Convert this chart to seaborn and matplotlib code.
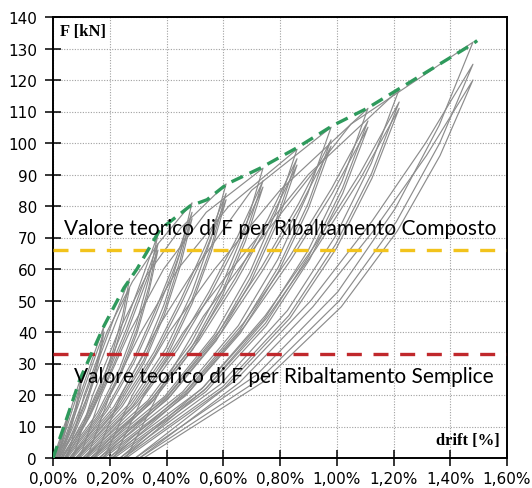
import matplotlib
matplotlib.use("Agg")
import matplotlib.pyplot as plt
from matplotlib.ticker import FuncFormatter
import pandas as pd
import seaborn as sns

# Hysteresis loops: loading branch up to the peak, then unloading back to zero force.
# Drift in %, force in kN.
cycle_drift = [
    [0.000, 0.011, 0.021, 0.031, 0.040, 0.05, 0.045, 0.039, 0.031, 0.020, 0.004],
    [0.004, 0.014, 0.023, 0.032, 0.041, 0.05, 0.046, 0.039, 0.032, 0.021, 0.006],
    [0.006, 0.027, 0.046, 0.063, 0.081, 0.10, 0.091, 0.078, 0.062, 0.041, 0.010],
    [0.010, 0.030, 0.048, 0.065, 0.082, 0.10, 0.091, 0.079, 0.064, 0.043, 0.013],
    [0.013, 0.050, 0.083, 0.115, 0.147, 0.18, 0.164, 0.141, 0.112, 0.073, 0.018],
    [0.018, 0.054, 0.086, 0.117, 0.148, 0.18, 0.164, 0.142, 0.114, 0.076, 0.022],
    [0.022, 0.077, 0.126, 0.173, 0.220, 0.27, 0.246, 0.212, 0.168, 0.110, 0.028],
    [0.028, 0.081, 0.130, 0.176, 0.222, 0.27, 0.246, 0.213, 0.171, 0.114, 0.033],
    [0.033, 0.121, 0.191, 0.255, 0.313, 0.37, 0.337, 0.294, 0.235, 0.156, 0.040],
    [0.040, 0.126, 0.195, 0.258, 0.314, 0.37, 0.338, 0.295, 0.237, 0.159, 0.045],
    [0.045, 0.130, 0.198, 0.260, 0.315, 0.37, 0.338, 0.296, 0.239, 0.162, 0.050],
    [0.050, 0.110, 0.190, 0.280, 0.370, 0.49, 0.447, 0.391, 0.317, 0.214, 0.058],
    [0.058, 0.188, 0.283, 0.360, 0.430, 0.49, 0.447, 0.392, 0.320, 0.217, 0.064],
    [0.064, 0.192, 0.286, 0.362, 0.430, 0.49, 0.448, 0.393, 0.322, 0.221, 0.070],
    [0.070, 0.140, 0.230, 0.330, 0.450, 0.61, 0.557, 0.488, 0.398, 0.271, 0.080],
    [0.080, 0.239, 0.356, 0.451, 0.536, 0.61, 0.558, 0.490, 0.401, 0.275, 0.087],
    [0.087, 0.244, 0.359, 0.453, 0.537, 0.61, 0.558, 0.491, 0.404, 0.280, 0.094],
    [0.094, 0.170, 0.270, 0.390, 0.540, 0.74, 0.677, 0.594, 0.486, 0.334, 0.105],
    [0.105, 0.296, 0.435, 0.550, 0.651, 0.74, 0.677, 0.596, 0.489, 0.339, 0.113],
    [0.113, 0.301, 0.439, 0.552, 0.652, 0.74, 0.678, 0.597, 0.492, 0.343, 0.120],
    [0.120, 0.200, 0.310, 0.440, 0.620, 0.86, 0.787, 0.693, 0.569, 0.394, 0.132],
    [0.132, 0.350, 0.511, 0.642, 0.758, 0.86, 0.788, 0.694, 0.572, 0.399, 0.140],
    [0.140, 0.356, 0.514, 0.644, 0.759, 0.86, 0.789, 0.696, 0.575, 0.404, 0.148],
    [0.148, 0.240, 0.360, 0.500, 0.700, 0.98, 0.898, 0.792, 0.653, 0.457, 0.162],
    [0.162, 0.407, 0.587, 0.735, 0.866, 0.98, 0.899, 0.794, 0.657, 0.463, 0.172],
    [0.172, 0.414, 0.592, 0.738, 0.867, 0.98, 0.900, 0.796, 0.660, 0.468, 0.180],
    [0.180, 0.280, 0.410, 0.570, 0.800, 1.11, 1.019, 0.900, 0.744, 0.525, 0.196],
    [0.196, 0.470, 0.671, 0.836, 0.982, 1.11, 1.020, 0.902, 0.749, 0.532, 0.207],
    [0.207, 0.478, 0.677, 0.839, 0.984, 1.11, 1.021, 0.904, 0.752, 0.538, 0.216],
    [0.216, 0.320, 0.460, 0.630, 0.900, 1.22, 1.122, 0.994, 0.826, 0.590, 0.236],
    [0.236, 0.531, 0.748, 0.925, 1.082, 1.22, 1.123, 0.996, 0.831, 0.598, 0.248],
    [0.248, 0.540, 0.753, 0.928, 1.084, 1.22, 1.124, 0.999, 0.835, 0.604, 0.258],
    [0.258, 0.380, 0.530, 0.720, 1.050, 1.48, 1.361, 1.206, 1.004, 0.718, 0.290],
    [0.290, 0.647, 0.909, 1.123, 1.313, 1.48, 1.363, 1.210, 1.010, 0.728, 0.305],
    [0.305, 0.658, 0.916, 1.128, 1.316, 1.48, 1.364, 1.213, 1.016, 0.738, 0.320],
]
cycle_force = [
    [0, 2.6, 5.2, 7.8, 10.4, 13, 10.4, 7.8, 5.2, 2.6, 0],
    [0, 2.4, 4.8, 7.2, 9.6, 12, 9.6, 7.2, 4.8, 2.4, 0],
    [0, 5.2, 10.4, 15.6, 20.8, 26, 20.8, 15.6, 10.4, 5.2, 0],
    [0, 4.8, 9.6, 14.4, 19.2, 24, 19.2, 14.4, 9.6, 4.8, 0],
    [0, 8.4, 16.8, 25.2, 33.6, 42, 33.6, 25.2, 16.8, 8.4, 0],
    [0, 8.0, 16.0, 24.0, 32.0, 40, 32.0, 24.0, 16.0, 8.0, 0],
    [0, 11.4, 22.8, 34.2, 45.6, 57, 45.6, 34.2, 22.8, 11.4, 0],
    [0, 10.8, 21.6, 32.4, 43.2, 54, 43.2, 32.4, 21.6, 10.8, 0],
    [0, 14.2, 28.4, 42.6, 56.8, 71, 56.8, 42.6, 28.4, 14.2, 0],
    [0, 13.6, 27.2, 40.8, 54.4, 68, 54.4, 40.8, 27.2, 13.6, 0],
    [0, 13.2, 26.4, 39.6, 52.8, 66, 52.8, 39.6, 26.4, 13.2, 0],
    [0, 20.0, 40.0, 56.0, 68.0, 81, 64.8, 48.6, 32.4, 16.2, 0],
    [0, 15.6, 31.2, 46.8, 62.4, 78, 62.4, 46.8, 31.2, 15.6, 0],
    [0, 15.2, 30.4, 45.6, 60.8, 76, 60.8, 45.6, 30.4, 15.2, 0],
    [0, 20.0, 40.0, 58.0, 73.0, 87, 69.6, 52.2, 34.8, 17.4, 0],
    [0, 16.8, 33.6, 50.4, 67.2, 84, 67.2, 50.4, 33.6, 16.8, 0],
    [0, 16.4, 32.8, 49.2, 65.6, 82, 65.6, 49.2, 32.8, 16.4, 0],
    [0, 20.0, 40.0, 60.0, 78.0, 92, 72.8, 54.6, 36.4, 18.2, 0],
    [0, 17.6, 35.2, 52.8, 70.4, 88, 70.4, 52.8, 35.2, 17.6, 0],
    [0, 17.2, 34.4, 51.6, 68.8, 86, 68.8, 51.6, 34.4, 17.2, 0],
    [0, 20.0, 40.0, 60.0, 80.0, 98, 78.4, 58.8, 39.2, 19.6, 0],
    [0, 19.0, 38.0, 57.0, 76.0, 95, 76.0, 57.0, 38.0, 19.0, 0],
    [0, 18.6, 37.2, 55.8, 74.4, 93, 74.4, 55.8, 37.2, 18.6, 0],
    [0, 20.0, 40.0, 60.0, 85.0, 105, 84.0, 63.0, 42.0, 21.0, 0],
    [0, 20.2, 40.4, 60.6, 80.8, 101, 80.8, 60.6, 40.4, 20.2, 0],
    [0, 19.8, 39.6, 59.4, 79.2, 99, 79.2, 59.4, 39.6, 19.8, 0],
    [0, 20.0, 40.0, 60.0, 85.0, 111, 88.0, 66.0, 44.0, 22.0, 0],
    [0, 21.4, 42.8, 64.2, 85.6, 107, 85.6, 64.2, 42.8, 21.4, 0],
    [0, 21.0, 42.0, 63.0, 84.0, 105, 84.0, 63.0, 42.0, 21.0, 0],
    [0, 20.0, 40.0, 60.0, 90.0, 117, 93.6, 70.2, 46.8, 23.4, 0],
    [0, 22.6, 45.2, 67.8, 90.4, 113, 90.4, 67.8, 45.2, 22.6, 0],
    [0, 22.2, 44.4, 66.6, 88.8, 111, 88.8, 66.6, 44.4, 22.2, 0],
    [0, 22.0, 45.0, 68.0, 106.0, 132, 105.6, 79.2, 52.8, 26.4, 0],
    [0, 25.0, 50.0, 75.0, 100.0, 125, 100.0, 75.0, 50.0, 25.0, 0],
    [0, 24.0, 48.0, 72.0, 96.0, 120, 96.0, 72.0, 48.0, 24.0, 0],
]

# Envelope through the peak points
envelope_drift = [0.0, 0.05, 0.095, 0.14, 0.18, 0.25, 0.296, 0.335, 0.377, 0.483,
                  0.543, 0.613, 0.73, 0.86, 0.985, 1.107, 1.225, 1.48, 1.495]
envelope_force = [0, 13, 25, 34, 42, 54, 60, 66, 72.5, 80,
                  82, 87, 92, 98.5, 105.5, 111, 117.5, 131.5, 132.5]

# Theoretical overturning forces [kN]
f_composto = 66
f_semplice = 33
label_composto = "Valore teorico di F per Ribaltamento Composto"
label_semplice = "Valore teorico di F per Ribaltamento Semplice"

x_ticks = [0.0, 0.2, 0.4, 0.6, 0.8, 1.0, 1.2, 1.4, 1.6]
y_ticks = [0, 10, 20, 30, 40, 50, 60, 70, 80, 90, 100, 110, 120, 130, 140]

rows = []
for i, (dx, fy) in enumerate(zip(cycle_drift, cycle_force)):
    for j, (d, f) in enumerate(zip(dx, fy)):
        rows.append({"cycle": i, "step": j, "drift": d, "force": f})
loops = pd.DataFrame(rows)
env = pd.DataFrame({"drift": envelope_drift, "force": envelope_force})

sns.set_theme(style="white")
plt.rcParams["font.family"] = ["DejaVu Sans"]

fig = plt.figure(figsize=(5.32, 4.89), dpi=100)
fig.patch.set_facecolor("white")
ax = fig.add_axes([53 / 532, 30 / 489, 454 / 532, 441 / 489])

ax.set_xlim(0, 1.6)
ax.set_ylim(0, 140)
ax.set_xticks(x_ticks)
ax.set_yticks(y_ticks)
ax.grid(True, color="#a0a0a0", linestyle=(0, (1, 1.4)), linewidth=0.8)
ax.set_axisbelow(True)

sns.lineplot(data=loops, x="drift", y="force", units="cycle", estimator=None,
             sort=False, color="#8c8c8c", linewidth=0.85, ax=ax, legend=False)

ax.axhline(f_composto, color="#f2c31c", linewidth=2.4, dashes=(4.5, 3.5), zorder=3)
ax.axhline(f_semplice, color="#c0282c", linewidth=2.4, dashes=(4.5, 3.5), zorder=3)

sns.lineplot(data=env, x="drift", y="force", sort=False, color="#2e9a5c",
             linewidth=2.4, ax=ax, legend=False)
ax.lines[-1].set_dashes((3.8, 2.2))
ax.lines[-1].set_zorder(4)

ax.text(0.04, 73, label_composto, family="Lato", fontsize=15, va="center",
        ha="left", color="black", zorder=5)
ax.text(0.075, 26, label_semplice, family="Lato", fontsize=15, va="center",
        ha="left", color="black", zorder=5)

ax.text(0.025, 135.5, "F [kN]", family="Liberation Serif", fontweight="bold",
        fontsize=12, va="center", ha="left", color="black")
ax.text(1.575, 5.7, "drift [%]", family="Liberation Serif", fontweight="bold",
        fontsize=12, va="center", ha="right", color="black")

ax.set_xlabel("")
ax.set_ylabel("")
ax.xaxis.set_major_formatter(FuncFormatter(lambda v, p: f"{v:.2f}%".replace(".", ",")))
ax.yaxis.set_major_formatter(FuncFormatter(lambda v, p: f"{v:.0f}"))
ax.tick_params(axis="both", which="major", direction="inout", length=11, width=1.1,
               color="black", labelcolor="black", labelsize=11, left=True, bottom=True)
ax.tick_params(axis="y", pad=6)
ax.tick_params(axis="x", pad=4)
for s in ax.spines.values():
    s.set_color("black")
    s.set_linewidth(1.4)
    s.set_visible(True)

fig.savefig("out.png", dpi=100, facecolor="white")
